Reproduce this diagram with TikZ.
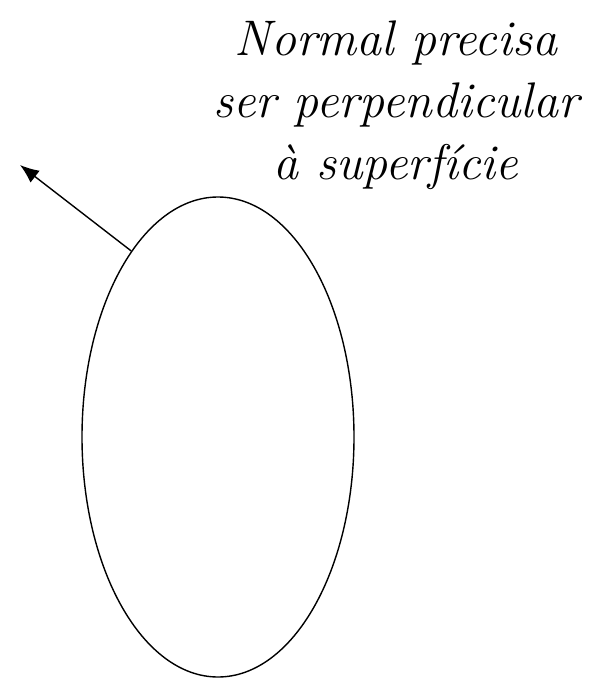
\documentclass[tikz,border=0pt]{standalone}
\usetikzlibrary{positioning,arrows.meta,shapes.geometric}
\tikzset{>={Latex[length=19pt,width=15pt]}}

\begin{document}
\begin{tikzpicture}[x=1pt, y=-1pt, line width=1.4pt,
  surface/.style={draw, ellipse, minimum width=272pt, minimum height=480pt, inner sep=0pt},
  lab/.style={align=center, font=\fontsize{50}{62}\selectfont\itshape, inner sep=0pt}]
\useasboundingbox (0,0) rectangle (606,678);
\node[surface] (surf) at (218,437) {};
\node[lab, anchor=north] (note) at (396,20) {Normal precisa \\ ser perpendicular \\ à superfície};
\coordinate (tip) at (20,165);
\draw[->] (surf.115) -- (tip);
\end{tikzpicture}
\end{document}
